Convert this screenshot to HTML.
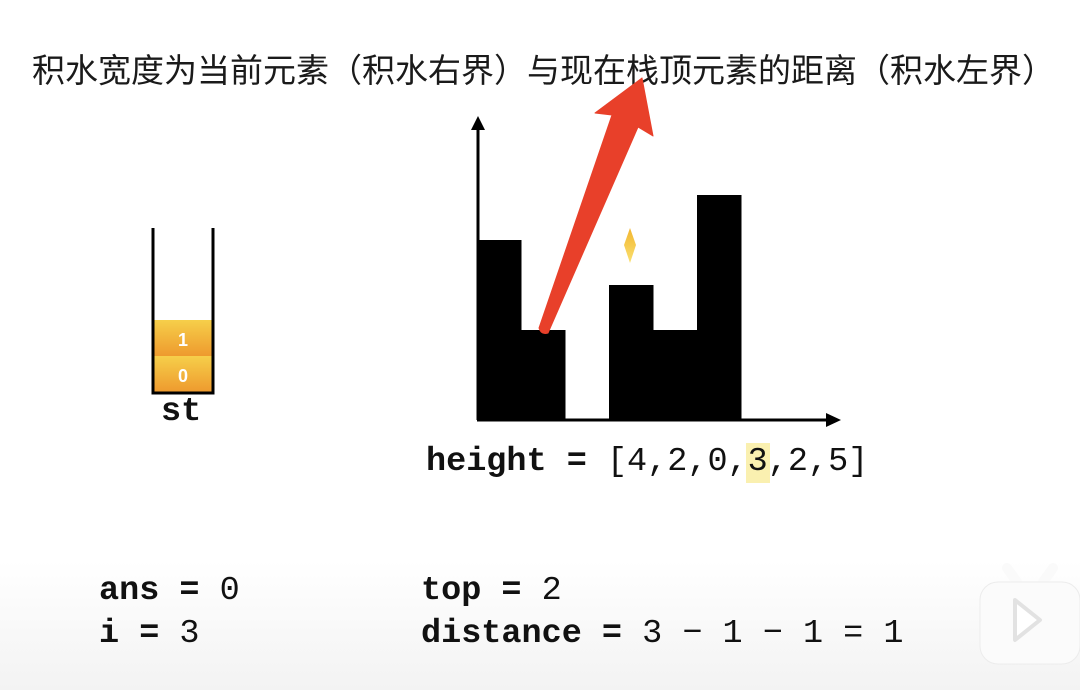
<!DOCTYPE html>
<html><head><meta charset="utf-8"><style>
body{margin:0;width:1080px;height:690px;overflow:hidden;background:linear-gradient(#fff 0,#fff 560px,#f3f3f3 690px);position:relative;font-family:"Liberation Sans","Noto Sans CJK SC",sans-serif}
.t{position:absolute;white-space:nowrap}
.m{font-family:"Liberation Mono","DejaVu Sans Mono",monospace;font-weight:bold;font-size:33.5px;color:#111}
.m span{font-weight:normal}
</style></head><body>
<div class="t" style="left:32px;top:44px;font-size:33px;color:#1a1a1a">积水宽度为当前元素（积水右界）与现在栈顶元素的距离（积水左界）</div>
<svg width="1080" height="690" style="position:absolute;left:0;top:0">
<defs>
<linearGradient id="g" x1="0" y1="0" x2="0" y2="1"><stop offset="0" stop-color="#f6cf4a"/><stop offset="1" stop-color="#ee9a2e"/></linearGradient>
<linearGradient id="d" x1="0" y1="0" x2="0" y2="1"><stop offset="0" stop-color="#f2b630"/><stop offset="1" stop-color="#fae070"/></linearGradient>
</defs>
<g>
<rect x="154" y="320" width="59" height="36" fill="url(#g)"/>
<rect x="154" y="356" width="59" height="36" fill="url(#g)"/>
<text x="183" y="346" font-size="18" font-weight="bold" fill="#fff" text-anchor="middle" font-family="Liberation Sans">1</text>
<text x="183" y="382" font-size="18" font-weight="bold" fill="#fff" text-anchor="middle" font-family="Liberation Sans">0</text>
<path d="M153,228 V393 H213 V228" fill="none" stroke="#000" stroke-width="3"/>
</g>
<g id="bars"></g>
<path d="M478,420 V126" stroke="#000" stroke-width="3"/>
<path d="M471,130 L478,116 L485,130 Z" fill="#000"/>
<path d="M477,420 H828" stroke="#000" stroke-width="3"/>
<path d="M826,413 L841,420 L826,427 Z" fill="#000"/>
<path d="M630,228 L636,245 L630,263 L624,245 Z" fill="url(#d)"/>
<g>
<path d="M539,328 Q541,335 548,333 L638,127 L653,136 L642,78 L595,113 L612,115 Z" fill="#e8402a" stroke="#e8402a" stroke-width="1" stroke-linejoin="round"/>
</g>
<rect x="746" y="443" width="24" height="40" fill="#faf0b0"/>
</svg>
<div class="t m" style="left:161px;top:393px">st</div>
<div class="t m" style="left:426px;top:443px">height = <span>[4,2,0,3,2,5]</span></div>
<div class="t m" style="left:99px;top:572px">ans = <span>0</span></div>
<div class="t m" style="left:99px;top:615px">i = <span>3</span></div>
<div class="t m" style="left:421px;top:572px">top = <span>2</span></div>
<div class="t m" style="left:421px;top:615px">distance = <span>3 − 1 − 1 = 1</span></div>
<svg width="105" height="115" style="position:absolute;left:975px;top:560px">
<path d="M32,8 L42,22 M78,8 L68,22" stroke="#fafafa" stroke-width="10" stroke-linecap="round"/>
<rect x="5" y="22" width="100" height="82" rx="18" fill="#fbfbfb" stroke="#ececec"/>
<path d="M40,40 L65,60 L40,80 Z" fill="#fff" stroke="#e2e2e2" stroke-width="4" stroke-linejoin="round"/>
</svg>
<script>
const heights=[4,2,0,3,2,5];
const g=document.getElementById('bars');
const x0=477,bw=44,base=420,unit=45;
heights.forEach((h,i)=>{
 if(h<=0)return;
 const r=document.createElementNS('http://www.w3.org/2000/svg','rect');
 r.setAttribute('x',x0+i*bw);r.setAttribute('width',bw+0.5);
 r.setAttribute('y',base-h*unit);r.setAttribute('height',h*unit);
 r.setAttribute('fill','#000');
 
 
 g.appendChild(r);
});
</script>
</body></html>
